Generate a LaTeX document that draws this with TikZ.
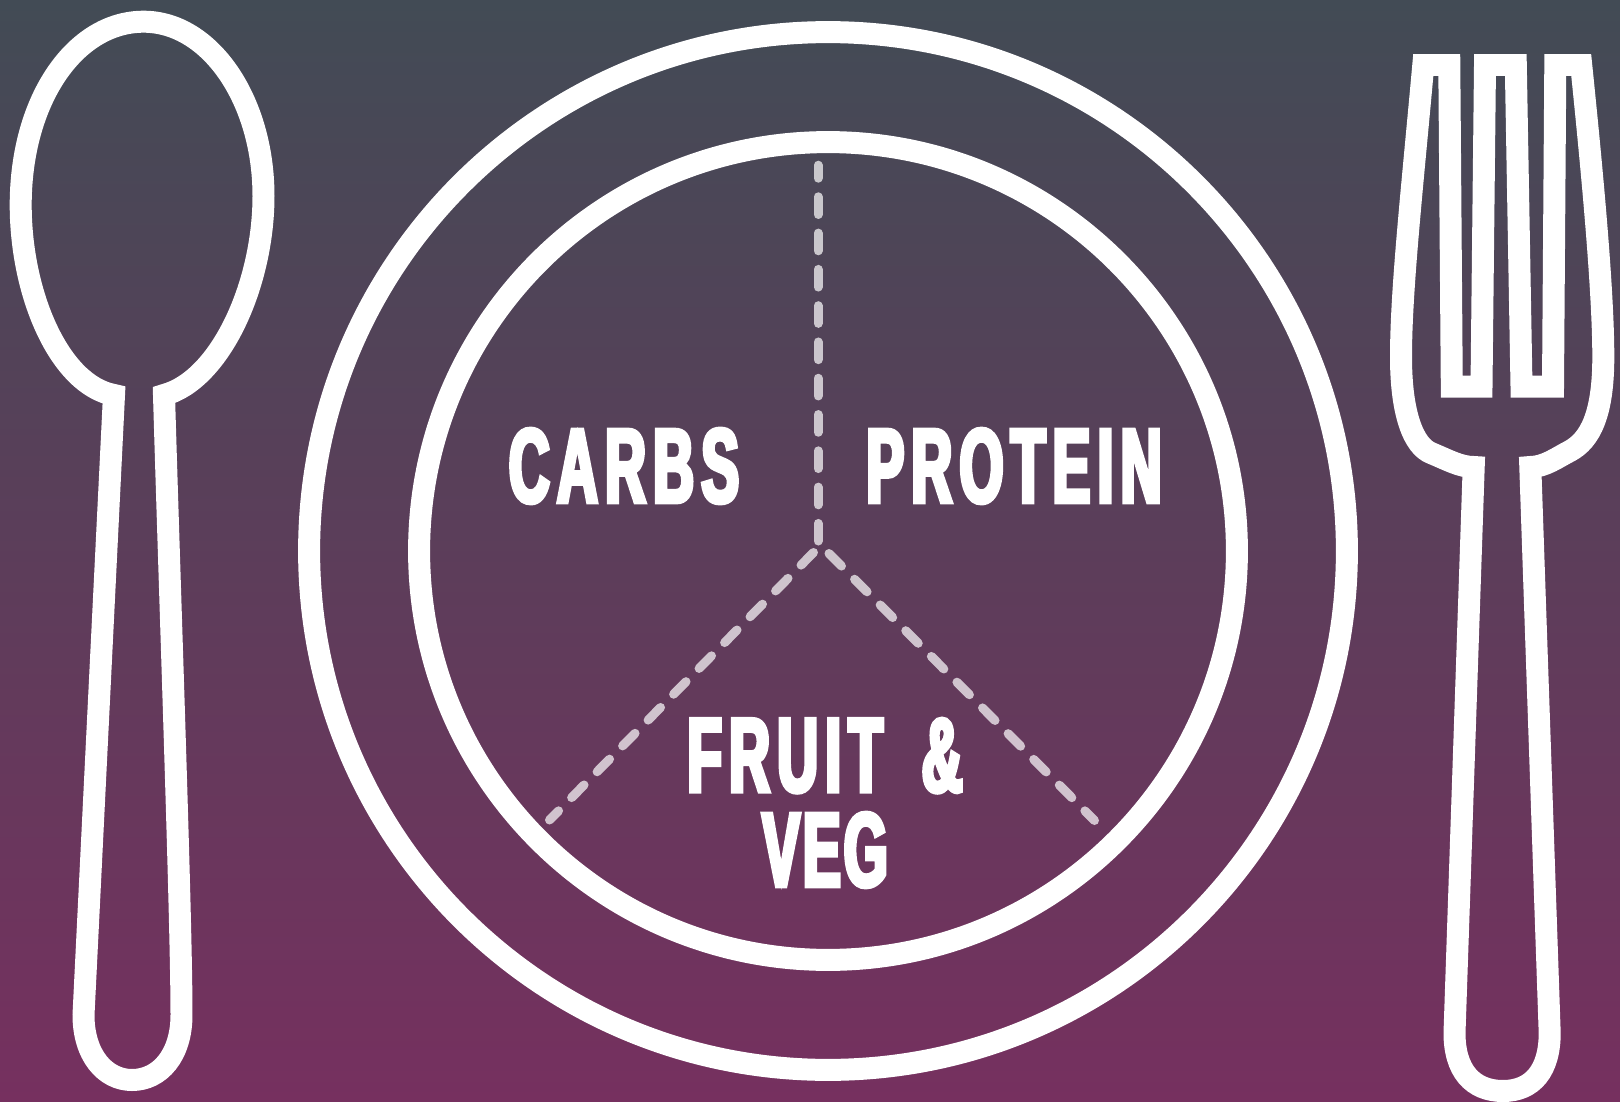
\documentclass[tikz,border=0pt]{standalone}
\usepackage{fontspec}
\newfontfamily\platefont[FakeStretch=0.535,FakeBold=4,LetterSpace=7]{Liberation Sans Bold}
\usetikzlibrary{positioning}
\definecolor{bgtop}{HTML}{424B55}
\definecolor{bgmiddle}{HTML}{504358}
\definecolor{bgbottom}{HTML}{76305F}

\begin{document}
\begin{tikzpicture}[
    x=0.02cm, y=-0.02cm,
    every node/.style={font=\platefont\fontsize{60}{53.9}\selectfont, align=center, text=white, inner sep=0pt},
    outline/.style={draw=white, line width=0.44cm, miter limit=20},
    divider/.style={draw=white, opacity=0.7, line width=0.18cm, line cap=round, dash pattern=on 0.354cm off 0.372cm}
]
% background
\useasboundingbox (0,0) rectangle (1620,1102);
\shade[top color=bgtop, middle color=bgmiddle, bottom color=bgbottom] (0,0) rectangle (1620,1102);

% plate
\coordinate (centre) at (828,551);
\draw[outline] (centre) circle[radius=10.38cm];
\draw[outline] (centre) circle[radius=8.18cm];

% spoon
\draw[outline] (114,395) -- (83.5,1015)
    .. controls (83.5,1055) and (105,1080) .. (132,1080)
    .. controls (160,1080) and (181.5,1055) .. (181.5,1015)
    .. controls (181.5,920) and (170,600) .. (164,395)
    .. controls (220,380) and (263.5,285) .. (263.5,196)
    .. controls (263.5,100) and (210,21.7) .. (143.6,21.7)
    .. controls (75,21.7) and (20.7,100) .. (20.7,205)
    .. controls (20.7,295) and (60,385) .. (114,395) -- cycle;

% fork
\draw[outline] (1423.3,65) -- (1449.3,65) -- (1451.8,386.7) -- (1481.5,386.7)
    -- (1485,65) -- (1515.8,65) -- (1521.5,386.7) -- (1553,386.7)
    -- (1555.3,65) -- (1581.2,65)
    .. controls (1592,170) and (1603.3,290) .. (1603.3,357)
    .. controls (1603.3,415) and (1590,440) .. (1570,451)
    .. controls (1558,457) and (1545,467) .. (1530.3,467)
    -- (1549.7,1033)
    .. controls (1549.7,1070) and (1533,1091) .. (1503,1091)
    .. controls (1472,1091) and (1454.5,1070) .. (1454.5,1033)
    -- (1473.7,467)
    .. controls (1460,467) and (1448,460) .. (1431,453)
    .. controls (1414,446) and (1401,415) .. (1401,357)
    .. controls (1401,290) and (1412,190) .. (1423.3,65) -- cycle;

% dividers
\coordinate (top) at (818,165.2);
\coordinate (hub) at (818,541);
\coordinate (hubleft) at (813.5,552.5);
\coordinate (hubright) at (829,553.5);
\coordinate (endleft) at (549.5,820);
\coordinate (endright) at (1094.5,820.5);
\draw[divider, dash phase=0.094cm] (top) -- (hub);
\draw[divider] (hubleft) -- (endleft);
\draw[divider] (hubright) -- (endright);

% labels
\node (carbs) at (624,466) {CARBS};
\node (protein) at (1014,466) {PROTEIN};
\node (fruit) at (825,803) {FRUIT\hspace{9pt} \&\\{\addfontfeature{LetterSpace=3}VEG}};
\end{tikzpicture}
\end{document}
